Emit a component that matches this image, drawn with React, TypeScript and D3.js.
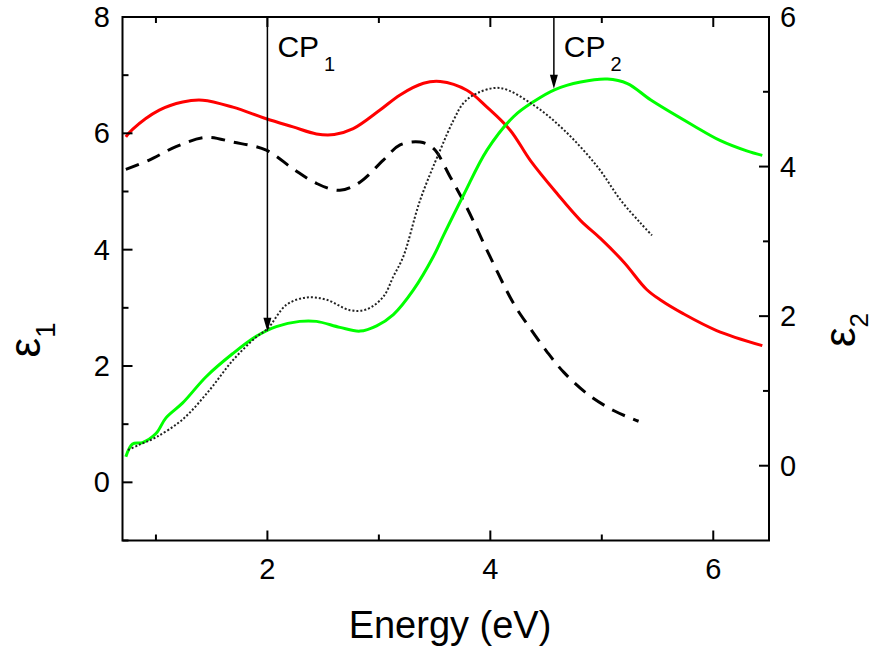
import React from "react";
import * as d3 from "d3";

// ---- data ----
const redE = [0.73, 0.79, 1.03, 1.24, 1.42, 1.69, 1.99, 2.23, 2.44, 2.6, 2.77, 3.01, 3.19, 3.4, 3.55, 3.79, 3.97, 4.18, 4.36, 4.6, 4.81, 4.99, 5.2, 5.4, 5.53, 5.73, 6.03, 6.44];
const redV = [5.94, 6.07, 6.4, 6.54, 6.57, 6.45, 6.25, 6.11, 5.99, 5.98, 6.08, 6.4, 6.66, 6.86, 6.89, 6.74, 6.45, 6.05, 5.53, 4.96, 4.5, 4.19, 3.78, 3.32, 3.13, 2.9, 2.61, 2.35];

const dashE = [0.73, 0.94, 1.18, 1.45, 1.69, 1.99, 2.23, 2.44, 2.65, 2.83, 3.04, 3.19, 3.37, 3.49, 3.64, 3.79, 3.98, 4.21, 4.36, 4.51, 4.66, 4.87, 5.11, 5.33];
const dashV = [5.38, 5.54, 5.77, 5.93, 5.85, 5.71, 5.39, 5.14, 5.02, 5.16, 5.54, 5.8, 5.85, 5.74, 5.25, 4.72, 3.95, 3.07, 2.64, 2.24, 1.89, 1.52, 1.23, 1.05];

const dotE = [0.75, 0.85, 1.0, 1.24, 1.48, 1.69, 1.9, 2.0, 2.17, 2.35, 2.53, 2.74, 2.89, 3.04, 3.13, 3.22, 3.37, 3.55, 3.67, 3.76, 3.88, 4.09, 4.39, 4.66, 4.96, 5.17, 5.35, 5.45];
const dotV = [0.21, 0.28, 0.38, 0.62, 1.01, 1.41, 1.72, 1.83, 2.15, 2.25, 2.22, 2.08, 2.09, 2.26, 2.53, 2.8, 3.55, 4.22, 4.62, 4.85, 4.98, 5.05, 4.82, 4.49, 4.0, 3.55, 3.24, 3.08];

const greenE = [0.73, 0.79, 0.88, 1.0, 1.09, 1.24, 1.45, 1.69, 1.9, 2.08, 2.29, 2.44, 2.65, 2.83, 2.98, 3.13, 3.31, 3.49, 3.58, 3.76, 3.97, 4.21, 4.39, 4.58, 4.81, 5.05, 5.23, 5.44, 5.82, 6.06, 6.3, 6.44];
const greenV = [0.12, 0.29, 0.31, 0.43, 0.64, 0.84, 1.19, 1.5, 1.73, 1.86, 1.93, 1.93, 1.85, 1.8, 1.87, 2.02, 2.35, 2.8, 3.08, 3.62, 4.22, 4.67, 4.87, 5.03, 5.13, 5.17, 5.11, 4.89, 4.55, 4.35, 4.21, 4.15];

const xMajor = [2, 4, 6];
const xMinor = [1, 3, 5];
const yLMajor = [0, 2, 4, 6, 8];
const yLMinor = [-1, 1, 3, 5, 7];
const yRMajor = [0, 2, 4, 6];
const yRMinor = [1, 3, 5];

const cpLabels = ["1", "2"];
const cpE = [2.0, 4.57];
const cpTipV = [1.79, 5.04]; // on right (ε2) axis

const FONT = "Arial, 'Liberation Sans', sans-serif";

export default function App() {
  const W = 878, H = 651;
  const L = 122.5, R = 769, T = 17, B = 540.5;
  const x = d3.scaleLinear().domain([0.7, 6.5]).range([L, R]);
  const yL = d3.scaleLinear().domain([-1, 8]).range([B, T]);
  const yR = d3.scaleLinear().domain([-1, 6]).range([B, T]);

  const mk = (E: number[], V: number[], ys: d3.ScaleLinear<number, number>) =>
    d3.line<number>().x((_, i) => x(E[i])).y((v) => ys(v)).curve(d3.curveCatmullRom.alpha(0.5))(V) || "";

  const majLen = 10, minLen = 6;
  const ax = { stroke: "#000", strokeWidth: 2 };

  return (
    <svg width={W} height={H} style={{ position: "absolute", left: 0, top: 0, background: "#fff" }} fontFamily={FONT}>
      <rect x={0} y={0} width={W} height={H} fill="#fff" />
      {/* curves */}
      <path d={mk(redE, redV, yL)} fill="none" stroke="#ff0000" strokeWidth={3} />
      <path d={mk(dashE, dashV, yL)} fill="none" stroke="#000" strokeWidth={3} strokeDasharray="14,9" />
      <path d={mk(greenE, greenV, yR)} fill="none" stroke="#00ff00" strokeWidth={3} />
      <path d={mk(dotE, dotV, yR)} fill="none" stroke="#222" strokeWidth={2} strokeDasharray="2,2" />

      {/* CP arrows */}
      {cpE.map((e, i) => {
        const xx = x(e), tip = yR(cpTipV[i]);
        return (
          <g key={i}>
            <line x1={xx} x2={xx} y1={T} y2={tip - 12} stroke="#000" strokeWidth={1.5} />
            <path d={`M${xx - 4},${tip - 14} L${xx + 4},${tip - 14} L${xx},${tip} Z`} fill="#000" />
            <text x={xx + 10} y={T + 40} fontSize={30} fill="#000">
              CP<tspan fontSize={20} dx={5} dy={14}>{cpLabels[i]}</tspan>
            </text>
          </g>
        );
      })}

      {/* frame */}
      <rect x={L} y={T} width={R - L} height={B - T} fill="none" {...ax} />

      {/* x ticks bottom & top */}
      {xMajor.map((t) => (
        <g key={"xm" + t}>
          <line x1={x(t)} x2={x(t)} y1={B} y2={B - majLen} {...ax} />
          <line x1={x(t)} x2={x(t)} y1={T} y2={T + majLen} {...ax} />
          <text x={x(t)} y={579} fontSize={29} textAnchor="middle">{t}</text>
        </g>
      ))}
      {xMinor.map((t) => (
        <g key={"xn" + t}>
          <line x1={x(t)} x2={x(t)} y1={B} y2={B - minLen} {...ax} />
          <line x1={x(t)} x2={x(t)} y1={T} y2={T + minLen} {...ax} />
        </g>
      ))}
      {/* left ticks */}
      {yLMajor.map((t) => (
        <g key={"ym" + t}>
          <line x1={L} x2={L + majLen} y1={yL(t)} y2={yL(t)} {...ax} />
          <text x={110} y={yL(t) + 10} fontSize={29} textAnchor="end">{t}</text>
        </g>
      ))}
      {yLMinor.map((t) => (
        <line key={"yn" + t} x1={L} x2={L + minLen} y1={yL(t)} y2={yL(t)} {...ax} />
      ))}
      {/* right ticks */}
      {yRMajor.map((t) => (
        <g key={"rm" + t}>
          <line x1={R} x2={R - majLen} y1={yR(t)} y2={yR(t)} {...ax} />
          <text x={780} y={yR(t) + 10} fontSize={29} textAnchor="start">{t}</text>
        </g>
      ))}
      {yRMinor.map((t) => (
        <line key={"rn" + t} x1={R} x2={R - minLen} y1={yR(t)} y2={yR(t)} {...ax} />
      ))}

      {/* axis titles */}
      <text x={450} y={638} fontSize={38} textAnchor="middle">Energy (eV)</text>
      <text transform={`translate(40,340) rotate(-90)`} fontSize={44} textAnchor="middle">
        ε<tspan fontSize={28} dy={15}>1</tspan>
      </text>
      <text transform={`translate(855,330) rotate(-90)`} fontSize={44} textAnchor="middle">
        ε<tspan fontSize={26} dy={13}>2</tspan>
      </text>
    </svg>
  );
}
